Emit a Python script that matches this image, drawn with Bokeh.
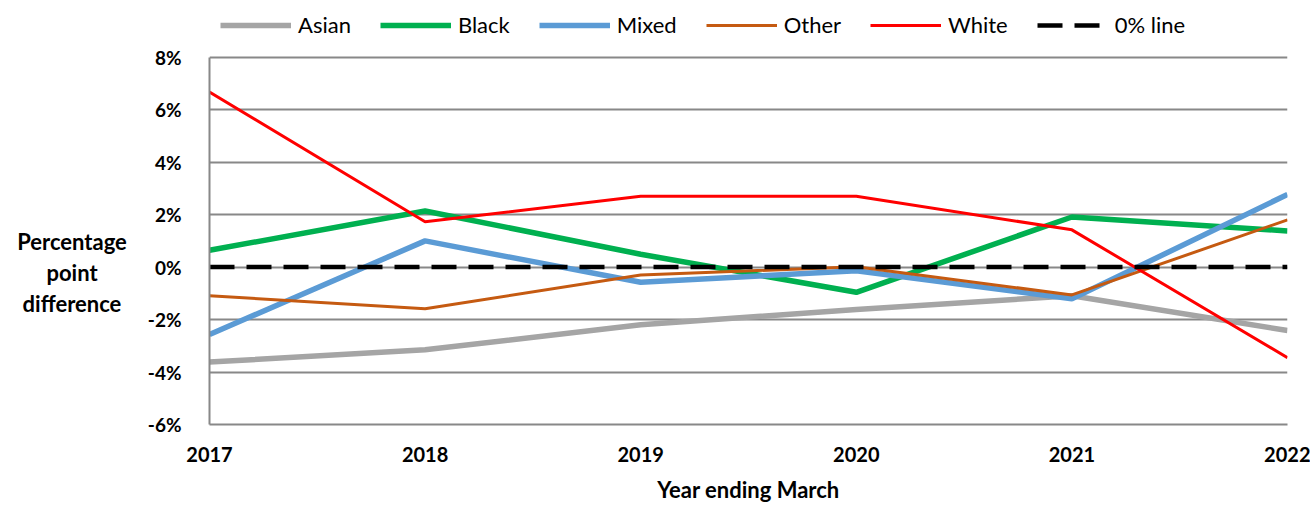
from bokeh.plotting import figure
from bokeh.models import Legend, LegendItem, Div, FixedTicker, PrintfTickFormatter, Range1d
from bokeh.layouts import row
from bokeh.embed import file_html
from bokeh.resources import INLINE

years = [2017, 2018, 2019, 2020, 2021, 2022]
asian = [-3.62, -3.15, -2.2, -1.62, -1.09, -2.42]
black = [0.64, 2.14, 0.49, -0.96, 1.91, 1.38]
mixed = [-2.57, 1.0, -0.58, -0.14, -1.21, 2.77]
other = [-1.09, -1.59, -0.30, 0.01, -1.06, 1.80]
white = [6.67, 1.73, 2.70, 2.70, 1.42, -3.45]
zero_line = [0, 0, 0, 0, 0, 0]
y_ticks = [-6, -4, -2, 0, 2, 4, 6, 8]
y_title_lines = ["Percentage", "point", "difference"]
x_title = "Year ending March"

FONT = "Lato"
Y_MIN, Y_MAX = -6, 8
# head-room above the 8% line (inside the frame) that holds the legend
Y_TOP = Y_MAX + 57 * (Y_MAX - Y_MIN) / 369

p = figure(width=1166, height=505, output_backend="svg", toolbar_location=None,
           x_range=Range1d(2017, 2022), y_range=Range1d(Y_MIN, Y_TOP),
           min_border_left=57, min_border_right=23, min_border_top=0,
           min_border_bottom=79)
p.outline_line_color = None
p.background_fill_color = "white"

# grid
p.xgrid.grid_line_color = None
p.ygrid.grid_line_color = "#888888"
p.ygrid.grid_line_width = 2
p.ygrid.ticker = FixedTicker(ticks=y_ticks)

# axes
yax = p.yaxis[0]
yax.ticker = FixedTicker(ticks=y_ticks)
yax.bounds = (Y_MIN, Y_MAX)
yax.formatter = PrintfTickFormatter(format="%d%%")
yax.axis_line_color = "#888888"
yax.axis_line_width = 2
yax.major_tick_line_color = None
yax.minor_tick_line_color = None
yax.major_label_standoff = 22
yax.major_label_text_font = FONT
yax.major_label_text_font_style = "bold"
yax.major_label_text_font_size = "19px"
yax.major_label_text_color = "black"

xax = p.xaxis[0]
xax.ticker = FixedTicker(ticks=years)
xax.axis_line_color = "#888888"
xax.axis_line_width = 2
xax.major_tick_line_color = None
xax.minor_tick_line_color = None
xax.major_label_standoff = 16
xax.major_label_text_font = FONT
xax.major_label_text_font_style = "bold"
xax.major_label_text_font_size = "20px"
xax.major_label_text_color = "black"
xax.axis_label = x_title
xax.axis_label_standoff = 11
xax.axis_label_text_font = FONT
xax.axis_label_text_font_style = "bold"
xax.axis_label_text_font_size = "22px"
xax.axis_label_text_color = "black"

# series
r_asian = p.line(years, asian, line_color="#A5A5A5", line_width=5.5)
r_black = p.line(years, black, line_color="#00B050", line_width=5.5)
r_mixed = p.line(years, mixed, line_color="#5B9BD5", line_width=5.5)
r_other = p.line(years, other, line_color="#C55A11", line_width=3)
r_white = p.line(years, white, line_color="#FF0000", line_width=3)
r_zero = p.line(years, zero_line, line_color="black", line_width=4.5, line_dash="25 12")

legend = Legend(items=[
    LegendItem(label="Asian", renderers=[r_asian]),
    LegendItem(label="Black", renderers=[r_black]),
    LegendItem(label="Mixed", renderers=[r_mixed]),
    LegendItem(label="Other", renderers=[r_other]),
    LegendItem(label="White", renderers=[r_white]),
    LegendItem(label="0% line", renderers=[r_zero]),
], orientation="horizontal", location="top_left")
legend.border_line_color = None
legend.background_fill_alpha = 0
legend.padding = 0
legend.margin = 11
legend.glyph_width = 71
legend.glyph_height = 24
legend.label_height = 24
legend.label_standoff = 7
legend.spacing = 29
legend.label_text_font = FONT
legend.label_text_font_size = "22px"
legend.label_text_color = "black"
p.add_layout(legend, "center")

ydiv = Div(text="<br>".join(y_title_lines), width=144, height=505, margin=0,
           styles={"font-family": FONT, "font-weight": "bold", "font-size": "22px",
                   "text-align": "center", "line-height": "31px",
                   "padding-top": "226px", "color": "black",
                   "box-sizing": "border-box"})

layout = row(ydiv, p, spacing=0)

open("out.html", "w").write(file_html(layout, INLINE))
